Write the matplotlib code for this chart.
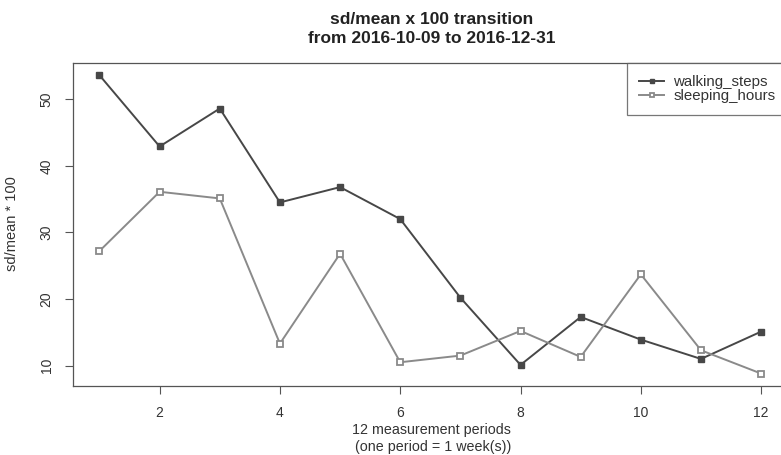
import matplotlib
matplotlib.use("Agg")
import matplotlib.pyplot as plt

periods = list(range(1, 13))
walking_steps = [53.6, 42.9, 48.6, 34.5, 36.8, 32.0, 20.2, 10.1, 17.3, 13.9, 11.0, 15.1]
sleeping_hours = [27.2, 36.1, 35.1, 13.3, 26.8, 10.5, 11.5, 15.2, 11.3, 23.7, 12.3, 8.8]
xticks = [2, 4, 6, 8, 10, 12]
yticks = [10, 20, 30, 40, 50]

plt.rcParams['font.family'] = ['Liberation Sans', 'DejaVu Sans']

W, H = 781, 455
fig = plt.figure(figsize=(W / 100, H / 100), dpi=100)
ax = fig.add_axes([73 / W, (H - 385.5) / H, (787.6 - 73) / W, (385.5 - 63.3) / H])

c_walk = '#474747'
c_sleep = '#8a8a8a'
ax.plot(periods, walking_steps, color=c_walk, lw=1.4, marker='s', ms=5,
        mfc=c_walk, mec=c_walk, label='walking_steps')
ax.plot(periods, sleeping_hours, color=c_sleep, lw=1.4, marker='s', ms=5,
        mfc='white', mec=c_sleep, mew=1.3, label='sleeping_hours')

lo = min(min(walking_steps), min(sleeping_hours))
hi = max(max(walking_steps), max(sleeping_hours))
pad = (hi - lo) * 0.04
ax.set_ylim(lo - pad, hi + pad)
ax.set_xlim(1 - 11 * 0.04, 12 + 11 * 0.04)

ax.set_xticks(xticks)
ax.set_yticks(yticks)
ax.set_yticklabels([str(v) for v in yticks], rotation=90, va='center')
ax.tick_params(axis='both', length=6, width=0.8, color='#555555',
               labelsize=10, labelcolor='#333333')
ax.tick_params(axis='x', pad=9)
ax.tick_params(axis='y', pad=8)
for s in ax.spines.values():
    s.set_color('#555555')
    s.set_linewidth(0.9)

fig.text(12 / W, (H - 224) / H, 'sd/mean * 100', rotation=90, ha='center',
         va='center', fontsize=10.5, color='#333333')
fig.text(431 / W, (H - 423) / H, '12 measurement periods',
         ha='center', va='top', fontsize=10.3, color='#333333')
fig.text(433 / W, (H - 440) / H, '(one period = 1 week(s))',
         ha='center', va='top', fontsize=10.3, color='#333333')

fig.text(431.5 / W, (H - 12) / H, 'sd/mean x 100 transition\nfrom 2016-10-09 to 2016-12-31',
         ha='center', va='top', fontsize=12.5, fontweight='bold',
         color='#222222', linespacing=1.35)

leg = ax.legend(loc='upper right', bbox_to_anchor=(1, 1), borderaxespad=0,
                fontsize=10.8, frameon=True, fancybox=False, handlelength=1.7,
                handletextpad=0.6, labelspacing=0.0, borderpad=0.8,
                markerscale=0.7)
leg.get_frame().set_edgecolor('#555555')
leg.get_frame().set_linewidth(0.9)
for t in leg.get_texts():
    t.set_color('#333333')

fig.savefig('out.png', dpi=100)
